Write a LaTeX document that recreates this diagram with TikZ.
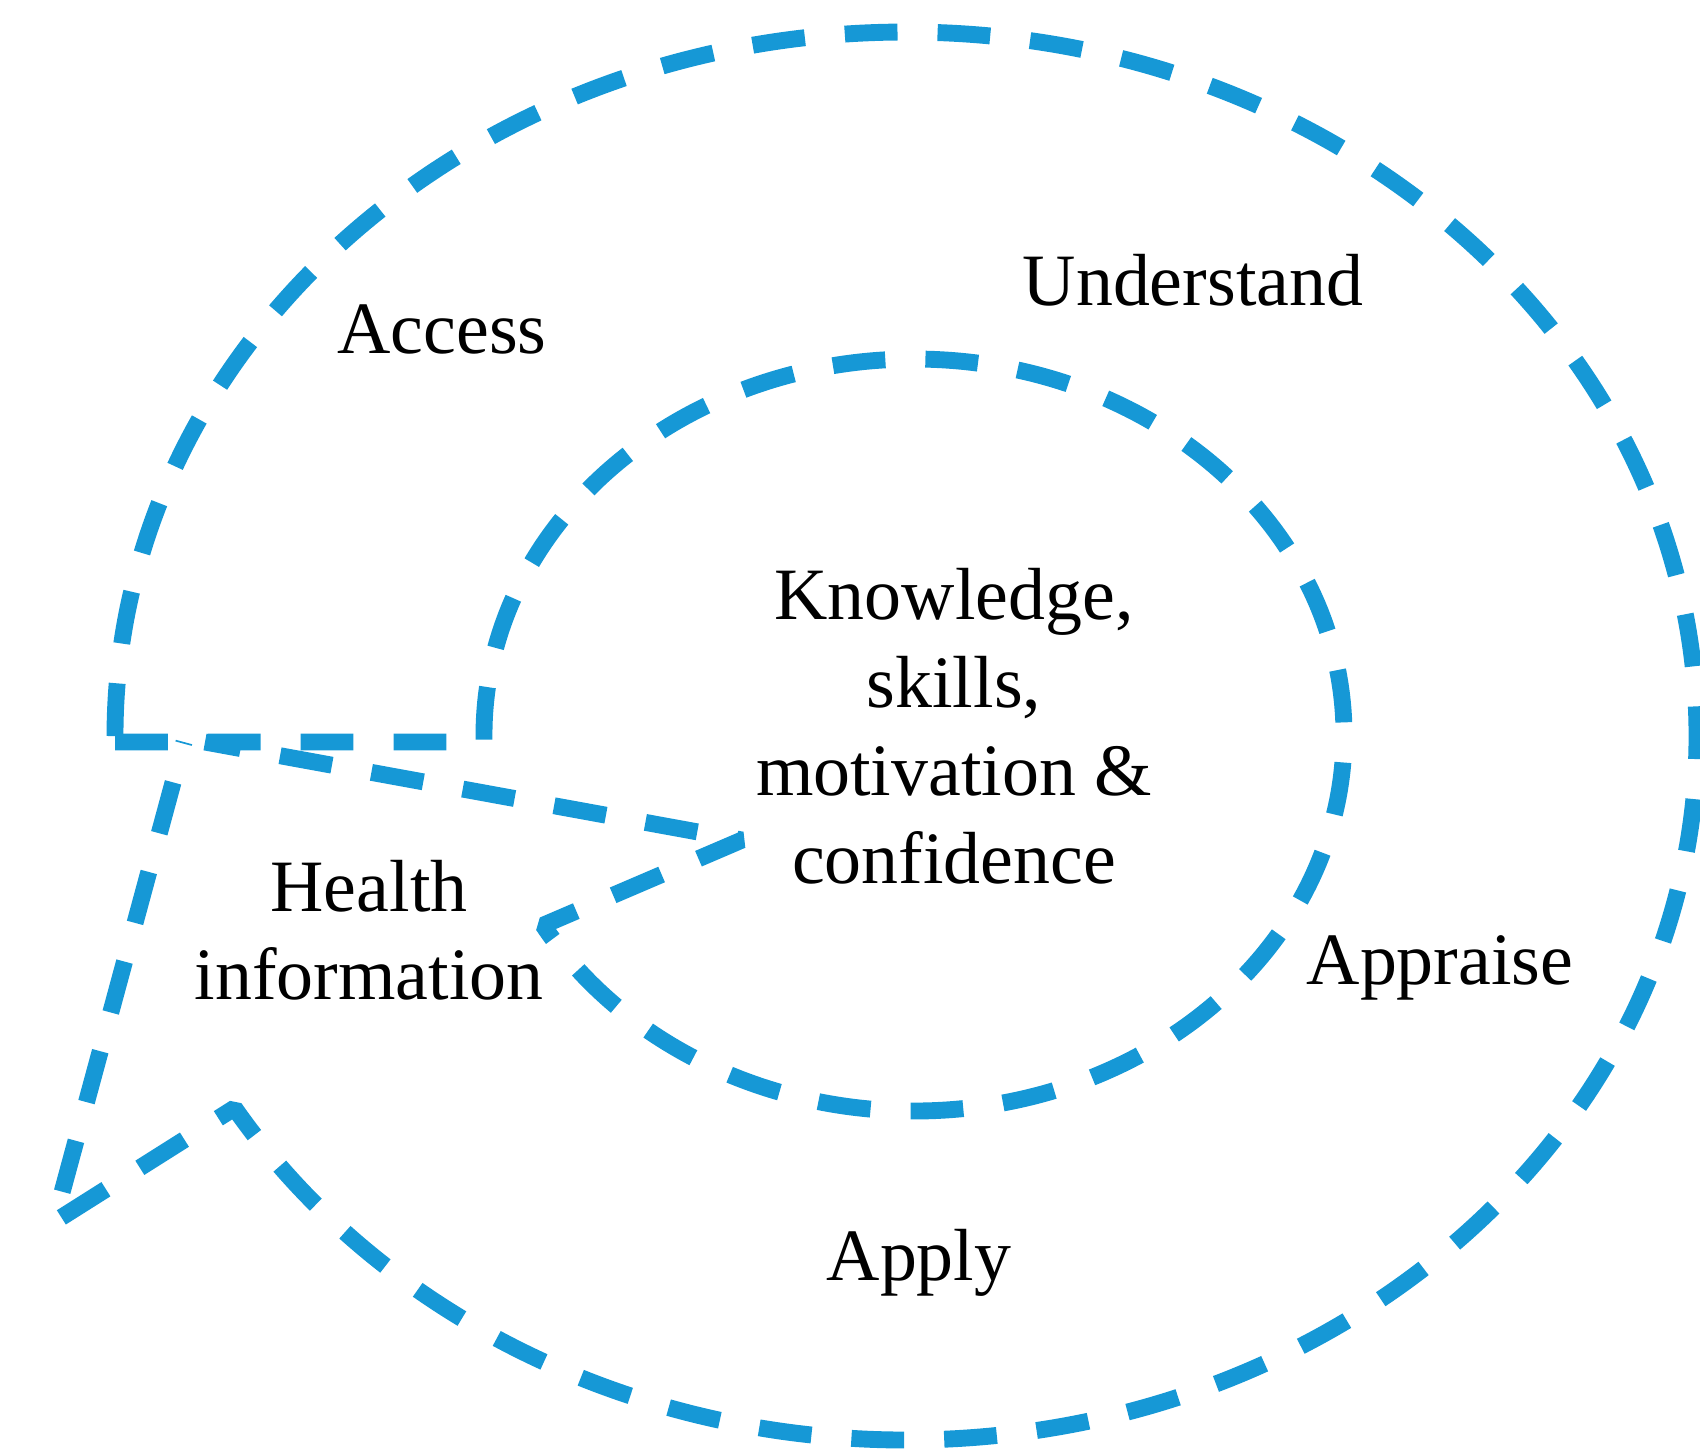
\documentclass[tikz,border=0pt]{standalone}
\usepackage{fontspec}
\setmainfont{Liberation Serif}
\usepackage{xcolor}
\definecolor{skyblue}{RGB}{22,152,214}

\begin{document}
\begin{tikzpicture}[x=0.01cm, y=-0.01cm,
  bubble/.style={draw=skyblue, line width=4.8pt, line join=bevel, dash pattern=on 15pt off 11.4pt},
  stage/.style={font=\fontsize{21}{25}\selectfont, align=center}]
\useasboundingbox (0,0) rectangle (1700,1453);
% outer bubble
\coordinate (outertip) at (54,1222);
\coordinate (outerjoin) at (184,742);
\draw[bubble] (115,736) arc[start angle=180, end angle=508.1, x radius=791, y radius=704] -- (outertip) -- (outerjoin);
% inner bubble
\coordinate (innertip) at (742,840);
\coordinate (innerjoin) at (205,742);
\draw[bubble] (115,742) -- (484,742) -- (484,735) arc[start angle=180, end angle=509.6, x radius=430, y radius=376] -- (innertip) -- (innerjoin);
\node[stage] (access) at (442,329) {Access};
\node[stage] (understand) at (1193,280) {Understand};
\node[stage] (core) at (954,726) {Knowledge,\\skills,\\motivation \&\\confidence};
\node[stage] (health) at (369,930) {Health\\information};
\node[stage] (appraise) at (1440,968) {Appraise};
\node[stage] (apply) at (919,1263) {Apply};
\end{tikzpicture}
\end{document}
